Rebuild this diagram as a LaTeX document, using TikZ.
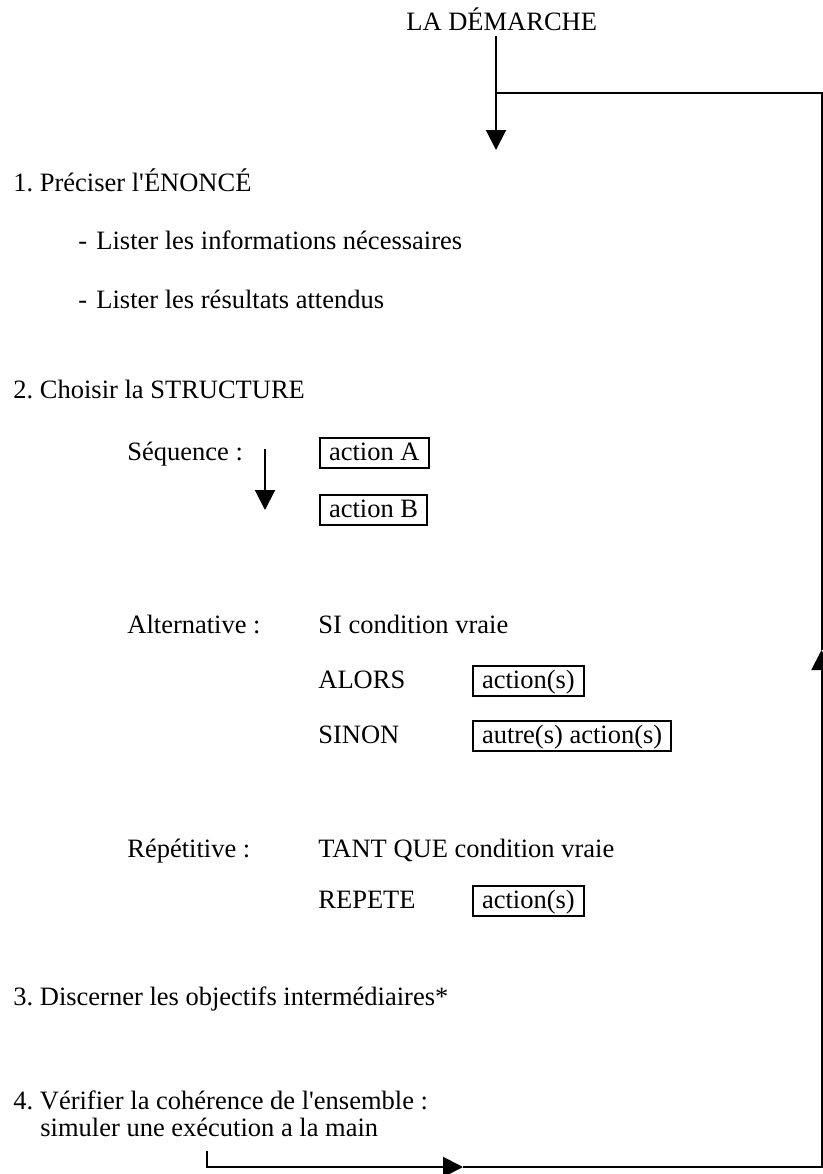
\documentclass[tikz,border=0pt]{standalone}
\usepackage{fontspec}
\setmainfont{Liberation Serif}
\usetikzlibrary{arrows.meta}
\frenchspacing
\begin{document}
\begin{tikzpicture}[x=0.5pt,y=-0.5pt,
  txt/.style={anchor=base west,inner sep=0pt,font=\fontsize{13.25}{15}\selectfont},
  abox/.style={txt,draw,line width=1pt,inner xsep=4.5pt,inner ysep=1.5pt,text height=9.5pt,text depth=2.5pt},
  conn/.style={line width=1pt},
  head/.style={-{Triangle[width=10pt,length=10pt]}}
]
\fill[white] (0,0) rectangle (823,1174);
\useasboundingbox (0,0) rectangle (823,1174);

% texts
\node[txt] (title) at (406,30) {LA DÉMARCHE};
\node[txt] (s1) at (13,191) {1. Préciser l\textquotesingle ÉNONCÉ};
\node[txt] (d1) at (78,249) {-};
\node[txt] (l1) at (96,249) {Lister les informations nécessaires};
\node[txt] (d2) at (78,308) {-};
\node[txt] (l2) at (96,308) {Lister les résultats attendus};
\node[txt] (s2) at (13,398) {2. Choisir la STRUCTURE};
\node[txt] (seq) at (127,460) {Séquence :};
\node[abox] (aA) at (319,460) {action A};
\node[abox] (aB) at (319,517) {action B};
\node[txt] (alt) at (127,633) {Alternative :};
\node[txt] (si) at (318,633) {SI condition vraie};
\node[txt] (alors) at (318,688) {ALORS};
\node[abox] (act1) at (472,688) {action(s)};
\node[txt] (sinon) at (318,743) {SINON};
\node[abox] (act2) at (472,743) {autre(s) action(s)};
\node[txt] (rep) at (127,857) {Répétitive :};
\node[txt] (tq) at (318,857) {TANT QUE condition vraie};
\node[txt] (repete) at (318,908) {REPETE};
\node[abox] (act3) at (472,908) {action(s)};
\node[txt] (s3) at (13,1005) {3. Discerner les objectifs intermédiaires*};
\node[txt] (s4) at (13,1109) {4. Vérifier la cohérence de l\textquotesingle ensemble :};
\node[txt] (s4b) at (40,1136) {simuler une exécution a la main};

% sequence arrow
\coordinate (seqtop) at (265,449);
\coordinate (seqtip) at (265,510);
\draw[conn,head] (seqtop) -- (seqtip);

% main arrow
\coordinate (mtop) at (496,36);
\coordinate (mtip) at (496,150);
\coordinate (lpj) at (496,93);
\draw[conn,head] (mtop) -- (mtip);

% loop back
\coordinate (lp0) at (207,1151);
\coordinate (lpb) at (463,1167);
\coordinate (lpbr) at (821.5,1167);
\coordinate (lpr) at (821.5,650);
\coordinate (lptr) at (821.5,93);
\draw[conn,head] (lp0) |- (lpb);
\draw[conn,head] (lpb) -- (lpbr) -- (lpr);
\draw[conn] (lpr) -- (lptr) -- (lpj);
\end{tikzpicture}
\end{document}
